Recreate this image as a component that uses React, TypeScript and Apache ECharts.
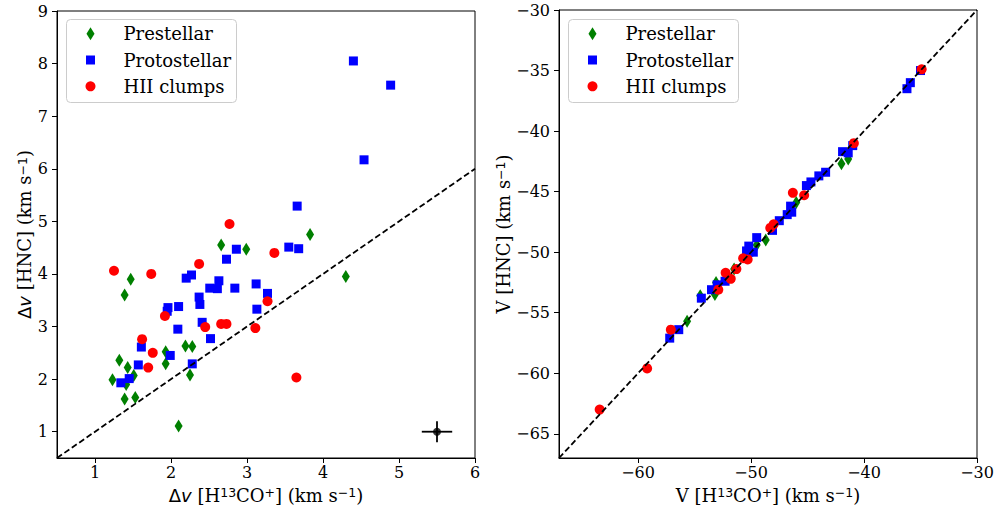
import React, { useEffect, useRef } from "react";
import * as echarts from "echarts";

// Clump classes, in drawing order
const classNames = ["Prestellar", "Protostellar", "HII clumps"];
const classColors = ["#008000", "#0000ff", "#ff0000"];

// Line widths (km/s): H13CO+ on x, HNC on y
const prestellarDvH13co = [2.66, 2.99, 3.83, 4.3, 1.47, 1.39, 2.19, 2.28, 1.93, 1.93, 1.32, 1.43, 1.51, 1.23, 1.41, 2.25, 1.39, 1.53, 2.1];
const prestellarDvHnc = [4.55, 4.47, 4.75, 3.95, 3.9, 3.6, 2.63, 2.62, 2.52, 2.29, 2.36, 2.22, 2.07, 1.99, 1.9, 2.08, 1.62, 1.65, 1.11];

const protostellarDvH13co = [4.4, 4.89, 4.54, 3.66, 2.86, 2.73, 3.55, 3.68, 2.2, 2.27, 2.51, 2.61, 2.63, 2.84, 3.12, 3.27, 3.13, 2.37, 2.38, 2.1, 1.96, 1.95, 2.41, 2.09, 2.52, 1.61, 1.99, 1.57, 2.28, 1.34, 1.45];
const protostellarDvHnc = [8.05, 7.59, 6.17, 5.29, 4.47, 4.28, 4.51, 4.48, 3.92, 3.98, 3.73, 3.72, 3.87, 3.73, 3.81, 3.63, 3.33, 3.56, 3.42, 3.38, 3.36, 3.29, 3.08, 2.95, 2.77, 2.61, 2.45, 2.27, 2.29, 1.93, 2.01];

const hiiDvH13co = [1.25, 1.74, 2.37, 3.36, 2.77, 1.92, 3.27, 2.45, 2.66, 2.73, 3.11, 1.62, 1.76, 1.7, 3.65];
const hiiDvHnc = [4.06, 4.0, 4.19, 4.4, 4.95, 3.2, 3.48, 2.99, 3.05, 3.05, 2.97, 2.76, 2.5, 2.22, 2.03];

// Typical uncertainty shown in the corner of the line-width panel
const errorBarCenter = [5.5, 1.0];
const errorBarHalfX = 0.2;
const errorBarHalfY = 0.2;

// Systemic velocities (km/s): H13CO+ on x, HNC on y
const prestellarVH13co = [-55.66, -54.5, -53.2, -53.1, -51.5, -49.5, -48.7, -46.0, -42.0, -41.4];
const prestellarVHnc = [-55.7, -53.6, -53.5, -52.5, -51.4, -49.4, -49.0, -45.9, -42.7, -42.3];

const protostellarVH13co = [-57.2, -56.4, -54.4, -53.5, -53.0, -52.3, -50.4, -50.2, -50.2, -49.8, -49.5, -48.1, -47.5, -46.8, -46.4, -46.5, -45.1, -44.7, -44.0, -43.4, -41.9, -41.4, -41.0, -36.2, -35.9, -35.0];
const protostellarVHnc = [-57.1, -56.4, -53.8, -53.1, -52.7, -52.4, -49.9, -50.0, -49.5, -50.0, -48.8, -48.2, -47.4, -46.9, -46.7, -46.2, -44.5, -44.2, -43.7, -43.4, -41.7, -41.8, -41.2, -36.5, -36.0, -35.0];

const hiiVH13co = [-63.4, -59.2, -57.1, -52.9, -52.25, -51.8, -51.3, -50.7, -50.3, -48.3, -48.0, -46.3, -45.3, -40.9, -34.9];
const hiiVHnc = [-63.0, -59.6, -56.4, -53.1, -51.7, -52.2, -51.4, -50.5, -50.6, -48.0, -47.7, -45.1, -45.3, -41.0, -34.9];

// Axis ranges and tick values
const dvRange = [0.5, 6];
const dvYRange = [0.5, 9];
const dvXTicks = [1, 2, 3, 4, 5, 6];
const dvYTicks = [1, 2, 3, 4, 5, 6, 7, 8, 9];
const vRange = [-67, -30];
const vXTicks = [-60, -50, -40, -30];
const vYTicks = [-65, -60, -55, -50, -45, -40, -35, -30];

const SERIF = "'DejaVu Serif', serif";
const SANS = "'DejaVu Sans', sans-serif";

const zip = (xs: number[], ys: number[]) => xs.map((x, i) => [x, ys[i]]);
const minusFmt = (v: number) => (v < 0 ? "\u2212" + Math.abs(v) : String(v));

const markerStyles = [
  { symbol: "diamond", symbolSize: [8, 13] },
  { symbol: "rect", symbolSize: 9 },
  { symbol: "circle", symbolSize: 10 },
];

const TITLE_SIZE = 18;
const richName = {
  n: { fontFamily: SERIF, fontSize: TITLE_SIZE, color: "#000" },
  m: { fontFamily: SANS, fontSize: TITLE_SIZE, color: "#000" },
  i: { fontFamily: SANS, fontSize: TITLE_SIZE, fontStyle: "italic", color: "#000" },
  s: { fontFamily: SANS, fontSize: 12.5, color: "#000", verticalAlign: "top" },
};

function makeAxis(
  gridIndex: number,
  range: number[],
  ticks: number[],
  name: string,
  nameGap: number,
  margin: number
) {
  return {
    type: "value",
    gridIndex,
    min: range[0],
    max: range[1],
    name,
    nameLocation: "middle",
    nameGap,
    nameTextStyle: { fontFamily: SERIF, fontSize: TITLE_SIZE, color: "#000", rich: richName },
    axisLine: { show: true, onZero: false, lineStyle: { color: "#000", width: 1 } },
    axisTick: { show: true, inside: false, length: 5, customValues: ticks, lineStyle: { color: "#000", width: 1 } },
    axisLabel: {
      show: true,
      customValues: ticks,
      margin,
      fontFamily: SERIF,
      fontSize: 16,
      color: "#000",
      formatter: minusFmt,
    },
    splitLine: { show: false },
  };
}

function legendGraphics(left: number, top: number) {
  const w = 170;
  const h = 83;
  const mx = left + 24.5;
  const tx = left + 57.5;
  const rows = [top + 14.7, top + 41, top + 67.3];
  const children: any[] = [
    {
      type: "rect",
      shape: { x: left + 0.5, y: top + 0.5, width: w, height: h, r: 4 },
      style: { fill: "rgba(255,255,255,0.8)", stroke: "#cccccc", lineWidth: 1 },
    },
  ];
  rows.forEach((cy, k) => {
    const color = classColors[k];
    if (k === 0) {
      children.push({
        type: "polygon",
        shape: { points: [[mx, cy - 6.5], [mx + 4, cy], [mx, cy + 6.5], [mx - 4, cy]] },
        style: { fill: color },
      });
    } else if (k === 1) {
      children.push({ type: "rect", shape: { x: mx - 4.5, y: cy - 4.5, width: 9, height: 9 }, style: { fill: color } });
    } else {
      children.push({ type: "circle", shape: { cx: mx, cy, r: 5 }, style: { fill: color } });
    }
    children.push({
      type: "text",
      x: tx,
      y: cy,
      style: {
        text: classNames[k],
        font: `18px ${SERIF}`,
        fill: "#000",
        verticalAlign: "middle",
        align: "left",
      },
    });
  });
  return { type: "group", children, z: 100 };
}

function scatterSeries(panel: number, data: number[][][]) {
  return data.map((pts, k) => ({
    type: "scatter",
    name: classNames[k],
    xAxisIndex: panel,
    yAxisIndex: panel,
    data: pts,
    symbol: markerStyles[k].symbol,
    symbolSize: markerStyles[k].symbolSize,
    itemStyle: { color: classColors[k], opacity: 1 },
    z: 2 + k,
    silent: true,
  }));
}

export default function App() {
  const ref = useRef<HTMLDivElement>(null);

  useEffect(() => {
    if (!ref.current) return;
    const chart = echarts.init(ref.current, undefined, { renderer: "svg" });

    const dashed = { color: "#000", width: 1.8, type: [6, 3] };
    const blackLine = { color: "#000", width: 1.8 };

    const option: any = {
      animation: false,
      backgroundColor: "#fff",
      grid: [
        { left: 57, top: 11, width: 418, height: 447, show: true, borderColor: "#000", borderWidth: 1, backgroundColor: "transparent" },
        { left: 559, top: 10, width: 418, height: 448, show: true, borderColor: "#000", borderWidth: 1, backgroundColor: "transparent" },
      ],
      xAxis: [
        makeAxis(0, dvRange, dvXTicks, "{m|Δ}{i|v}{n| [H}{s|13}{n|CO}{s|+}{n|] (km s}{s|−1}{n|)}", 28, 6),
        makeAxis(1, vRange, vXTicks, "{n|V [H}{s|13}{n|CO}{s|+}{n|] (km s}{s|−1}{n|)}", 28, 6),
      ],
      yAxis: [
        makeAxis(0, dvYRange, dvYTicks, "{m|Δ}{i|v}{n| [HNC] (km s}{s|−1}{n|)}", 23, 9),
        makeAxis(1, vRange, vYTicks, "{n|V [HNC] (km s}{s|−1}{n|)}", 42, 9),
      ],
      series: [
        ...scatterSeries(0, [
          zip(prestellarDvH13co, prestellarDvHnc),
          zip(protostellarDvH13co, protostellarDvHnc),
          zip(hiiDvH13co, hiiDvHnc),
        ]),
        ...scatterSeries(1, [
          zip(prestellarVH13co, prestellarVHnc),
          zip(protostellarVH13co, protostellarVHnc),
          zip(hiiVH13co, hiiVHnc),
        ]),
        // one-to-one lines
        {
          type: "line", xAxisIndex: 0, yAxisIndex: 0, silent: true, showSymbol: false, z: 10,
          data: [[dvRange[0], dvRange[0]], [dvRange[1], dvRange[1]]], lineStyle: dashed,
        },
        {
          type: "line", xAxisIndex: 1, yAxisIndex: 1, silent: true, showSymbol: false, z: 10,
          data: [[vRange[0], vRange[0]], [vRange[1], vRange[1]]], lineStyle: dashed,
        },
        // representative error bar
        {
          type: "line", xAxisIndex: 0, yAxisIndex: 0, silent: true, showSymbol: false, z: 10,
          data: [[errorBarCenter[0] - errorBarHalfX, errorBarCenter[1]], [errorBarCenter[0] + errorBarHalfX, errorBarCenter[1]]],
          lineStyle: blackLine,
        },
        {
          type: "line", xAxisIndex: 0, yAxisIndex: 0, silent: true, showSymbol: false, z: 10,
          data: [[errorBarCenter[0], errorBarCenter[1] - errorBarHalfY], [errorBarCenter[0], errorBarCenter[1] + errorBarHalfY]],
          lineStyle: blackLine,
        },
        {
          type: "scatter", xAxisIndex: 0, yAxisIndex: 0, silent: true, z: 11,
          data: [errorBarCenter], symbol: "circle", symbolSize: 8, itemStyle: { color: "#000" },
        },
      ],
      graphic: [legendGraphics(66, 19), legendGraphics(568, 19)],
    };

    chart.setOption(option);
    return () => chart.dispose();
  }, []);

  return (
    <div
      ref={ref}
      style={{ position: "absolute", left: 0, top: 0, width: 1001, height: 514, background: "#fff" }}
    />
  );
}
